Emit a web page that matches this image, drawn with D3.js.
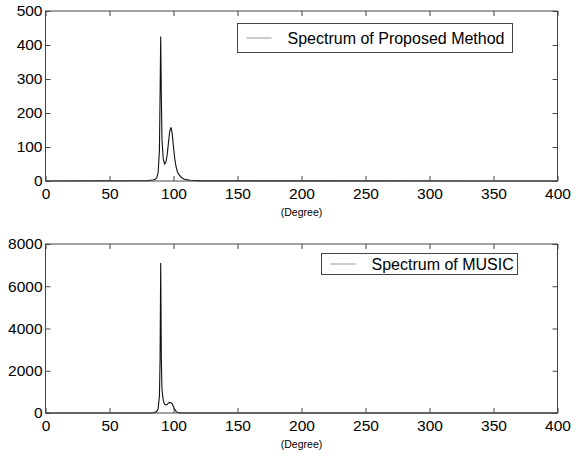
<!DOCTYPE html>
<html>
<head>
<meta charset="utf-8">
<script src="https://cdn.jsdelivr.net/npm/d3@7"></script>
<style>
  body { margin: 0; background: #fff; }
  text { font-family: "Liberation Sans", Arial, sans-serif; }
</style>
</head>
<body>
<div id="root"></div>
<script>
// x positions (degrees) where the spectra were read
const degTop = [0, 80, 84, 86, 87, 88, 89, 89.5, 90, 90.5, 91, 92, 93, 94, 95, 96, 97, 98, 99, 100, 101, 102, 103, 104, 106, 108, 110, 113, 120, 400];
const proposed = [0, 1, 3, 6, 10, 25, 90, 250, 425, 250, 120, 65, 50, 55, 75, 110, 145, 158, 140, 100, 65, 42, 28, 20, 11, 6, 4, 2, 0.5, 0];

const degBot = [0, 82, 84, 86, 87, 88, 89, 89.5, 90, 90.5, 91, 92, 93, 94, 95, 96, 97, 98, 99, 100, 101, 102, 103, 104, 106, 110, 400];
const music = [0, 2, 10, 40, 80, 200, 800, 2500, 7100, 2500, 1100, 600, 420, 380, 400, 470, 500, 490, 430, 300, 170, 80, 30, 12, 4, 1, 0];

const xTicks = [0, 50, 100, 150, 200, 250, 300, 350, 400];
const yTicksTop = [0, 100, 200, 300, 400, 500];
const yTicksBot = [0, 2000, 4000, 6000, 8000];

const W = 581, H = 462;
const svg = d3.select("#root").append("svg").attr("width", W).attr("height", H);

const x = d3.scaleLinear().domain([0, 400]).range([45.5, 557.5]);

const drawPanel = (top, bottom, yMax, yTicks, deg, vals, label, leg) => {
  const y = d3.scaleLinear().domain([0, yMax]).range([bottom, top]);
  const g = svg.append("g");

  // spectrum
  const line = d3.line().x(function(d) { return x(d[0]); }).y(function(d) { return y(d[1]); });
  g.append("path")
    .datum(deg.map(function(d, i) { return [d, vals[i]]; }))
    .attr("d", line)
    .attr("fill", "none")
    .attr("stroke", "#111")
    .attr("stroke-width", 1.1);

  // frame
  g.append("rect")
    .attr("x", x(0)).attr("y", top)
    .attr("width", x(400) - x(0)).attr("height", bottom - top)
    .attr("fill", "none").attr("stroke", "#444").attr("stroke-width", 1);

  // inside ticks, all four sides
  const tl = 5;
  g.append("g").attr("transform", "translate(0," + bottom + ")")
    .call(d3.axisBottom(x).tickValues(xTicks).tickSizeInner(-tl).tickSizeOuter(0).tickPadding(7))
    .call(function(a) { a.select(".domain").remove(); });
  g.append("g").attr("transform", "translate(0," + top + ")")
    .call(d3.axisTop(x).tickValues(xTicks).tickSizeInner(-tl).tickSizeOuter(0).tickFormat(""))
    .call(function(a) { a.select(".domain").remove(); });
  g.append("g").attr("transform", "translate(" + x(0) + ",0)")
    .call(d3.axisLeft(y).tickValues(yTicks).tickSizeInner(-tl).tickSizeOuter(0).tickPadding(3).tickFormat(d3.format("d")))
    .call(function(a) { a.select(".domain").remove(); });
  g.append("g").attr("transform", "translate(" + x(400) + ",0)")
    .call(d3.axisRight(y).tickValues(yTicks).tickSizeInner(-tl).tickSizeOuter(0).tickFormat(""))
    .call(function(a) { a.select(".domain").remove(); });

  g.selectAll(".tick line").attr("stroke", "#444");
  g.selectAll(".tick text")
    .attr("font-family", "'Liberation Sans', Arial, sans-serif")
    .attr("font-size", 15.5).attr("fill", "#000");

  // x label
  g.append("text")
    .attr("x", x(200)).attr("y", bottom + 35)
    .attr("text-anchor", "middle")
    .attr("font-size", 10.5)
    .text(label);

  // legend
  g.append("rect")
    .attr("x", leg.x).attr("y", leg.y).attr("width", leg.w).attr("height", leg.h)
    .attr("fill", "#fff").attr("stroke", "#444").attr("stroke-width", 1);
  g.append("line")
    .attr("x1", leg.x + 9).attr("x2", leg.x + 34)
    .attr("y1", leg.y + leg.h / 2).attr("y2", leg.y + leg.h / 2)
    .attr("stroke", "#999").attr("stroke-width", 1);
  g.append("text")
    .attr("x", leg.x + 50).attr("y", leg.y + leg.h / 2 + 5.5)
    .attr("font-size", 16)
    .text(leg.text);
};

drawPanel(11, 181, 500, yTicksTop, degTop, proposed, "(Degree)",
  { x: 237.5, y: 23.5, w: 275, h: 29, text: "Spectrum of Proposed Method" });
drawPanel(244, 413, 8000, yTicksBot, degBot, music, "(Degree)",
  { x: 321.5, y: 253.5, w: 196, h: 21, text: "Spectrum of MUSIC" });
</script>
</body>
</html>
